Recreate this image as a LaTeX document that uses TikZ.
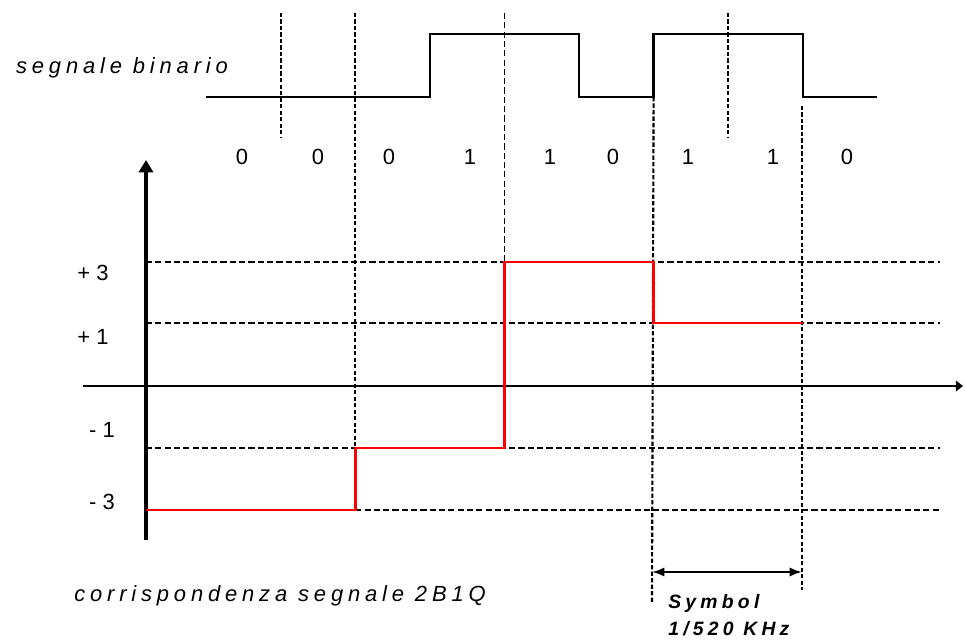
\documentclass[tikz,border=0pt]{standalone}
\usepackage{fontspec}
\setmainfont{Liberation Sans}
\newfontfamily\spacedfont[LetterSpace=22]{Liberation Sans}
\usetikzlibrary{arrows.meta}

\begin{document}
\begin{tikzpicture}[x=0.02cm, y=-0.02cm, font=\fontsize{12.5}{15}\selectfont]
\useasboundingbox (0,0) rectangle (965,641);
% coordinates
\coordinate (TOP) at (0,13);
\coordinate (BIT) at (0,138);
\coordinate (HI) at (0,34);
\coordinate (E) at (940,0);
\foreach \k in {0,...,9} {
  \coordinate (B\k) at (206+74.6*\k,97);
}
\coordinate (L3) at (146,262);
\coordinate (L1) at (146,323);
\coordinate (M1) at (146,448);
\coordinate (M3) at (146,510);
\coordinate (YB) at (146,540);
\coordinate (YT) at (146,160);
\coordinate (XL) at (83,386);
\coordinate (XR) at (963,386);

% labels
\node[font=\fontsize{12.5}{15}\spacedfont\itshape] (binlabel) at (122,68) {segnale binario};
\node[font=\fontsize{12.5}{15}\spacedfont\itshape] (mainlabel) at (280,596) {corrispondenza segnale 2B1Q};
\begin{scope}[every node/.style={anchor=west, inner sep=0pt, font=\fontsize{11}{13}\spacedfont\bfseries\itshape}]
\node (symlabel) at (668,604) {Symbol};
\node (ratelabel) at (668,629) {1/520 KHz};
\end{scope}

% bits
\foreach \x/\b [count=\i] in {242/0,318/0,389/0,470/1,550/1,613/0,688/1,773/1,847/0} {
  \node (bit\i) at (\x,157) {\b};
}

% levels
\node (p3) at (93,273) {+ 3};
\node (p1) at (93,337) {+ 1};
\node (m1) at (102,430) {- 1};
\node (m3) at (102,502) {- 3};

% grid
\begin{scope}[line width=0.7pt, dash pattern=on 3.5pt off 1.8pt]
\draw (L3) -- (L3-|E);
\draw (L1) -- (L1-|E);
\draw (M1) -- (M1-|E);
\draw[line width=1.1pt] (M3-|B2) -- (M3-|E);
\draw (B4|-TOP) -- (B4|-L3);
\end{scope}
\begin{scope}[line width=1.2pt, dash pattern=on 2.5pt off 1.2pt]
\draw (B1|-TOP) -- (B1|-BIT);
\draw (B2|-TOP) -- (B2|-M3);
\draw (B6) -- (652,603);
\draw (B7|-TOP) -- (B7|-BIT);
\draw (802,106) -- (802,590);
\end{scope}

% binary signal
\draw[line width=1.4pt] (B0) -- (B3) -- (B3|-HI) -- (B5|-HI) -- (B5) -- (B6)
  -- (B6|-HI) -- (B8|-HI) -- (B8) -- (B9);

% axes
\draw[line width=0.8pt, -{Triangle[length=4pt, width=6pt]}] (XL) -- (XR);
\draw[line width=1.9pt, -{Triangle[length=7pt, width=8pt]}] (YB) -- (YT);

% 2B1Q signal
\draw[red, line width=1.6pt] (M3) -- (M3-|B2) -- (M1-|B2) -- (M1-|B4) -- (L3-|B4)
  -- (L3-|B6) -- (L1-|B6) -- (L1-|B8);

% symbol
\draw[line width=1.3pt, {Latex[length=7pt]}-{Latex[length=7pt]}] (652,572) -- (802,572);
\end{tikzpicture}
\end{document}
